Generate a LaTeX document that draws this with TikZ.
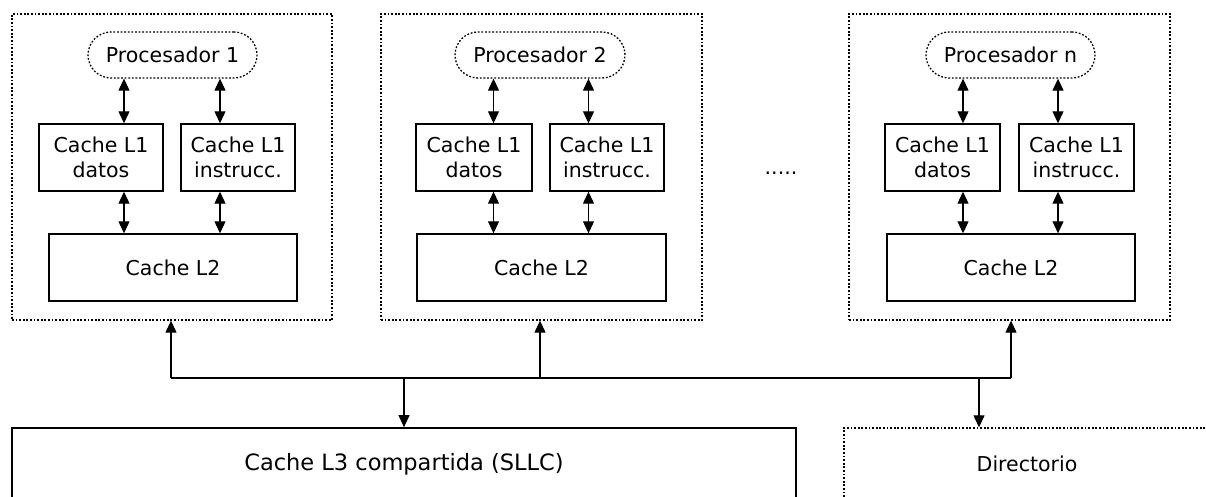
\documentclass[tikz,border=0pt]{standalone}
\usepackage{fontspec}
\setmainfont{DejaVu Sans}
\usetikzlibrary{arrows.meta}
\begin{document}
\begin{tikzpicture}[x=1pt,y=-1pt,
  every node/.style={font=\fontsize{20.5}{25}\selectfont, inner sep=0pt, align=center},
  solidbox/.style={draw, line width=1.4pt},
  dotbox/.style={draw, line width=1.3pt, dash pattern=on 1.8pt off 1.8pt},
  procbox/.style={dotbox, rounded corners=23pt},
  dbl/.style={{Triangle[width=11pt,length=12pt]}-{Triangle[width=11pt,length=12pt]}, line width=1.1pt},
  uni/.style={-{Triangle[width=11pt,length=12pt]}, line width=1.1pt},
  bus/.style={line width=2pt}
]
\useasboundingbox (0,0) rectangle (1206,496);
\clip (0,0) rectangle (1206,496);

% group 1
\node[dotbox, minimum width=320pt, minimum height=306pt] (B1) at (172,167) {};
\node[procbox, minimum width=169pt, minimum height=46pt] (p1) at (172.5,55) {Procesador 1};
\node[solidbox, minimum width=124pt, minimum height=67pt] (d1) at (101,157.5) {Cache L1\\datos};
\node[solidbox, minimum width=114pt, minimum height=67pt] (i1) at (238,157.5) {Cache L1\\instrucc.};
\node[solidbox, minimum width=248pt, minimum height=67pt] (c1) at (173,267.5) {Cache L2};

% group 2
\node[dotbox, minimum width=321pt, minimum height=306pt] (B2) at (541.5,167) {};
\node[procbox, minimum width=170pt, minimum height=46pt] (p2) at (540,55) {Procesador 2};
\node[solidbox, minimum width=116pt, minimum height=67pt] (d2) at (474,157.5) {Cache L1\\datos};
\node[solidbox, minimum width=114pt, minimum height=67pt] (i2) at (607,157.5) {Cache L1\\instrucc.};
\node[solidbox, minimum width=249pt, minimum height=67pt] (c2) at (541.5,267.5) {Cache L2};

% group n
\node[dotbox, minimum width=321pt, minimum height=306pt] (B3) at (1009.5,167) {};
\node[procbox, minimum width=169pt, minimum height=46pt] (p3) at (1010.5,55) {Procesador n};
\node[solidbox, minimum width=115pt, minimum height=67pt] (d3) at (942.5,157.5) {Cache L1\\datos};
\node[solidbox, minimum width=115pt, minimum height=67pt] (i3) at (1076.5,157.5) {Cache L1\\instrucc.};
\node[solidbox, minimum width=248pt, minimum height=67pt] (c3) at (1011,267.5) {Cache L2};

\node (dots) at (781,173) {.....};

% bottom
\node[draw, line width=1.7pt, minimum width=784pt, minimum height=72pt, font=\fontsize{22.5}{25}\selectfont] (L3) at (404,464) {Cache L3 compartida (SLLC)};
\node[dotbox, minimum width=366pt, minimum height=72pt] (dir) at (1027,464) {Directorio};

% inner arrows
\coordinate (x1a) at (124,0);  \coordinate (x1b) at (220,0);
\coordinate (x2a) at (493.5,0);\coordinate (x2b) at (588.5,0);
\coordinate (x3a) at (963,0);  \coordinate (x3b) at (1058,0);
\foreach \g in {1,2,3}{
  \draw[dbl] (x\g a |- p\g.south) -- (x\g a |- d\g.north);
  \draw[dbl] (x\g b |- p\g.south) -- (x\g b |- i\g.north);
  \draw[dbl] (x\g a |- d\g.south) -- (x\g a |- c\g.north);
  \draw[dbl] (x\g b |- i\g.south) -- (x\g b |- c\g.north);
}

% bus
\coordinate (bl) at (171,378);
\coordinate (j2) at (540,378);
\coordinate (br) at (1011,378);
\coordinate (j3) at (404,378);
\coordinate (j4) at (979,378);
\draw[bus] (bl) -- (br);
\draw[uni] (bl) -- (bl |- B1.south);
\draw[uni] (j2) -- (j2 |- B2.south);
\draw[uni] (br) -- (br |- B3.south);
\draw[uni] (j3) -- (j3 |- L3.north);
\draw[uni] (j4) -- (j4 |- dir.north);
\end{tikzpicture}
\end{document}
